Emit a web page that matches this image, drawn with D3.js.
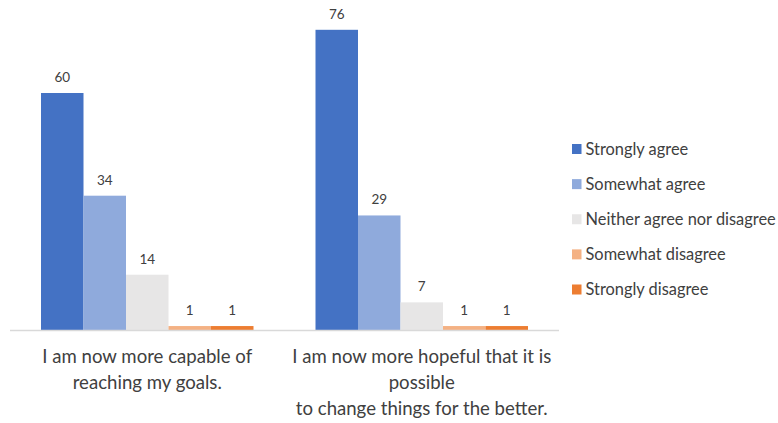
<!DOCTYPE html>
<html>
<head>
<meta charset="utf-8">
<script src="https://cdn.jsdelivr.net/npm/d3@7"></script>
<style>
  body { margin: 0; background: #fff; }
  svg { display: block; font-family: Lato, "Open Sans", sans-serif; }
</style>
</head>
<body>
<svg id="chart" width="778" height="423"></svg>
<script>
// statements (x axis categories), with manual line breaks like the original
const statements = [
    ["I am now more capable of", "reaching my goals."],
    ["I am now more hopeful that it is", "possible", "to change things for the better."]
];
const responses = ["Strongly agree", "Somewhat agree", "Neither agree nor disagree", "Somewhat disagree", "Strongly disagree"];
const colors = ["#4472C4", "#8FAADC", "#E7E6E6", "#F4B183", "#ED7D31"];
// counts per statement, same order as responses
const capableCounts = [60, 34, 14, 1, 1];
const hopefulCounts = [76, 29, 7, 1, 1];

const counts = [capableCounts, hopefulCounts];

const svg = d3.select("#chart");
const plotLeft = 10, plotRight = 559, plotTop = 14, plotBottom = 330;

const x0 = d3.scaleBand().domain(d3.range(statements.length)).range([plotLeft, plotRight]).paddingInner(0).paddingOuter(0);
const x1 = d3.scaleBand().domain(responses).range([31, x0.bandwidth() - 31]).padding(0);
const y = d3.scaleLinear().domain([0, 80]).range([plotBottom, plotTop]);

let groups = svg.selectAll("g.grp")
    .data(counts).enter()
    .append("g")
    .attr("class", "grp")
    .attr("transform", (d, i) => "translate(" + x0(i) + ",0)");

groups.selectAll("rect")
    .data(d => d.map((v, j) => ({ v: v, r: responses[j], c: colors[j] })))
    .enter().append("rect")
    .attr("x", d => x1(d.r))
    .attr("y", d => y(d.v))
    .attr("width", x1.bandwidth())
    .attr("height", d => plotBottom - y(d.v))
    .attr("fill", d => d.c);

groups.selectAll("text.lbl")
    .data(d => d.map((v, j) => ({ v: v, r: responses[j] })))
    .enter().append("text")
    .attr("class", "lbl")
    .attr("x", d => x1(d.r) + x1.bandwidth() / 2)
    .attr("y", d => y(d.v) - 11)
    .attr("text-anchor", "middle")
    .attr("font-size", 13.5)
    .attr("fill", "#404040")
    .text(d => d.v);

// baseline
svg.append("line")
    .attr("x1", plotLeft).attr("x2", plotRight)
    .attr("y1", plotBottom + 0.5).attr("y2", plotBottom + 0.5)
    .attr("stroke", "#D9D9D9")
    .attr("stroke-width", 1.5);

// category labels
statements.forEach((lines, i) => {
    let t = svg.append("text")
        .attr("x", x0(i) + x0.bandwidth() / 2)
        .attr("y", 363)
        .attr("text-anchor", "middle")
        .attr("font-size", 18.6)
        .attr("fill", "#404040");
    lines.forEach((ln, k) => {
        t.append("tspan")
            .attr("x", x0(i) + x0.bandwidth() / 2)
            .attr("dy", k == 0 ? 0 : 26)
            .text(ln);
    });
});

// legend
const ly = d3.scalePoint().domain(responses).range([149, 289.5]);
let leg = svg.selectAll("g.leg")
    .data(responses).enter()
    .append("g")
    .attr("class", "leg")
    .attr("transform", d => "translate(572," + ly(d) + ")");

leg.append("rect")
    .attr("x", 0).attr("y", -5)
    .attr("width", 9.5).attr("height", 10)
    .attr("fill", (d, i) => colors[i]);

leg.append("text")
    .attr("x", 13.5)
    .attr("y", 5.5)
    .attr("font-size", 16.4)
    .attr("fill", "#404040")
    .text(d => d);
</script>
</body>
</html>
